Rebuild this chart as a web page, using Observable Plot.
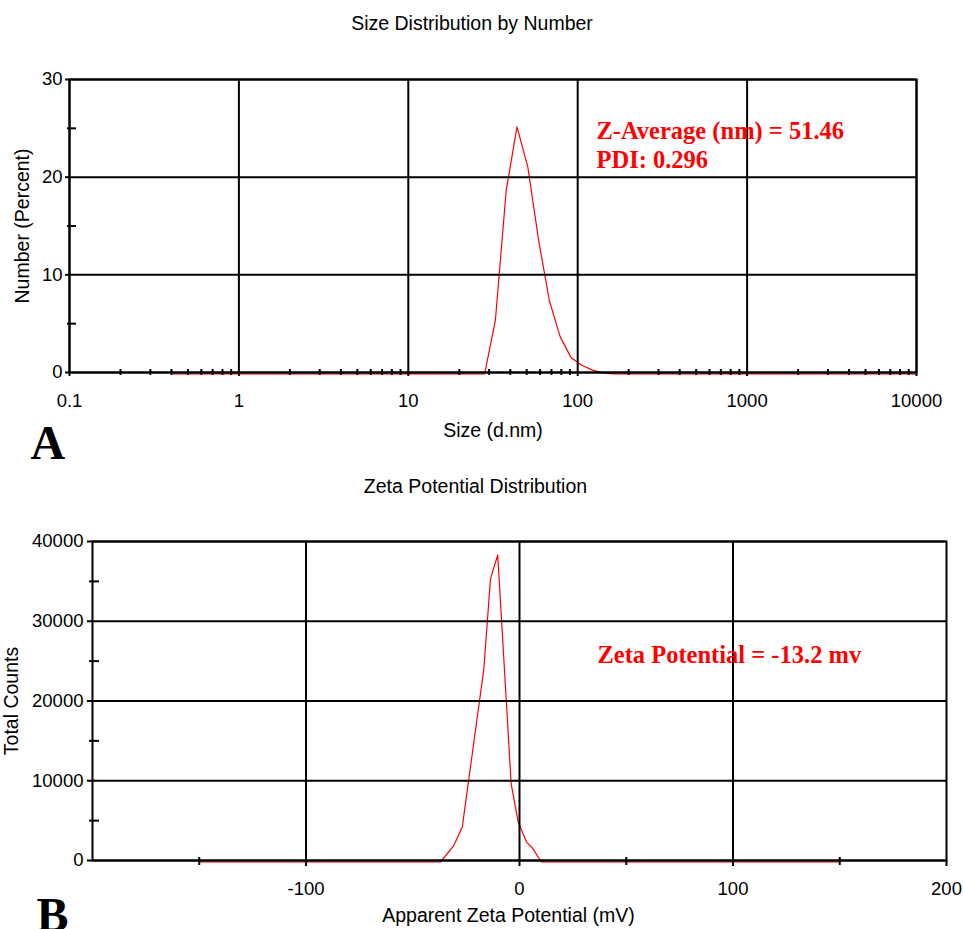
<!DOCTYPE html>
<html>
<head>
<meta charset="utf-8">
<script src="https://cdn.jsdelivr.net/npm/d3@7"></script>
<script src="https://cdn.jsdelivr.net/npm/@observablehq/plot@0.6"></script>
<style>
  html, body { margin: 0; padding: 0; background: #fff; overflow: hidden; }
  #root { position: relative; width: 963px; height: 929px; overflow: hidden; background: #fff; }
  #root svg { position: absolute; left: 0; }
</style>
</head>
<body>
<div id="root"></div>
<script>
// ---------- Panel A: Size Distribution by Number ----------
const titleA = "Size Distribution by Number";
const xLabelA = "Size (d.nm)";
const yLabelA = "Number (Percent)";
const annotA = "Z-Average (nm) = 51.46\nPDI: 0.296";
const sizeNm    = [0.4, 28.21, 32.67, 37.84, 43.82, 50.75, 58.77, 68.06, 78.82, 91.28, 105.7, 122.4, 141.8, 164.2, 10000];
const numberPct = [0,   0,     5.5,   18.8,  25.3,  21.2,  13.7,  7.5,   3.8,   1.7,   0.9,   0.4,   0.1,   0,     0];
const sizeTicks = [0.1, 1, 10, 100, 1000, 10000];
const sizeTickLabels = ["0.1", "1", "10", "100", "1000", "10000"];
const sizeMinorTicks = [0.2, 0.3, 0.4, 0.5, 0.6, 0.7, 0.8, 0.9,
                        2, 3, 4, 5, 6, 7, 8, 9,
                        20, 30, 40, 50, 60, 70, 80, 90,
                        200, 300, 400, 500, 600, 700, 800, 900,
                        2000, 3000, 4000, 5000, 6000, 7000, 8000, 9000];
const pctTicks = [0, 10, 20, 30];
const pctTickLabels = ["0", "10", "20", "30"];
const pctMinorTicks = [5, 15, 25];

// ---------- Panel B: Zeta Potential Distribution ----------
const titleB = "Zeta Potential Distribution";
const xLabelB = "Apparent Zeta Potential (mV)";
const yLabelB = "Total Counts";
const annotB = "Zeta Potential = -13.2 mv";
const zetaMv     = [-150, -37, -30.7, -26.8, -16.7, -13.6, -10.2, -3.9, -0.6, 3.3,  6.2,  10.2, 150];
const zetaCounts = [0,    0,   2100,  4400,  24200, 35500, 38500, 9800, 5000, 2500, 1700, 0,    0];
const zetaTicks = [-100, 0, 100, 200];
const zetaTickLabels = ["-100", "0", "100", "200"];
const zetaGrid = [-100, 0, 100];
const zetaMinorTicks = [-150, 50, 150];
const countTicks = [0, 10000, 20000, 30000, 40000];
const countTickLabels = ["0", "10000", "20000", "30000", "40000"];
const countMinorTicks = [5000, 15000, 25000, 35000];

const SANS = "'Liberation Sans', Arial, Helvetica, sans-serif";
const SERIF = "'Liberation Serif', 'Times New Roman', Times, serif";
const INK = "#000";
const RED = "#ff0000";

const dataA = sizeNm.map((s, i) => ({size: s, pct: numberPct[i]}));
const dataB = zetaMv.map((z, i) => ({mv: z, count: zetaCounts[i]}));

const plotA = Plot.plot({
  width: 963, height: 470,
  marginLeft: 69, marginRight: 47, marginTop: 79, marginBottom: 98,
  style: {fontFamily: SANS, fontSize: "18.5px", color: INK, background: "transparent", overflow: "visible"},
  x: {type: "log", domain: [0.1, 10000], label: null},
  y: {domain: [0, 30], label: null},
  marks: [
    Plot.line(dataA, {x: "size", y: "pct", stroke: RED, strokeWidth: 1.2, dy: 1.5}),
    Plot.ruleX(sizeTicks, {stroke: INK, strokeWidth: 2}),
    Plot.ruleY(pctTicks, {stroke: INK, strokeWidth: 2}),
    Plot.frame({stroke: INK, strokeWidth: 2}),
    Plot.axisX(sizeTicks, {tickSize: 4, tickPadding: 17, strokeWidth: 2, label: null,
      tickFormat: d => sizeTickLabels[sizeTicks.indexOf(d)]}),
    Plot.axisX(sizeMinorTicks, {tickSize: 6, dy: -3, strokeWidth: 2, label: null, tickFormat: () => ""}),
    Plot.axisY(pctTicks, {tickSize: 4, tickPadding: 3, strokeWidth: 2, label: null,
      tickFormat: d => pctTickLabels[pctTicks.indexOf(d)]}),
    Plot.axisY(pctMinorTicks, {tickSize: 9, dx: 7, strokeWidth: 2, label: null, tickFormat: () => ""}),
    Plot.text([titleA], {text: d => d, frameAnchor: "top", dx: -21, dy: -50, lineAnchor: "bottom",
      fontFamily: SANS, fontSize: 19.5, fill: INK}),
    Plot.text([xLabelA], {text: d => d, frameAnchor: "bottom", dx: 0, dy: 64, lineAnchor: "bottom",
      fontFamily: SANS, fontSize: 19.5, fill: INK}),
    Plot.text([yLabelA], {text: d => d, frameAnchor: "left", dx: -41, rotate: -90, lineAnchor: "bottom",
      textAnchor: "middle", fontFamily: SANS, fontSize: 19.5, fill: INK}),
    Plot.text([annotA], {text: d => d, frameAnchor: "top-left", dx: 527, dy: 88, lineAnchor: "bottom",
      lineHeight: 1.18, textAnchor: "start", fontFamily: SERIF, fontWeight: "bold", fontSize: 24.5, fill: RED}),
    Plot.text(["A"], {text: d => d, frameAnchor: "bottom-left", dx: -39, dy: 86, lineAnchor: "bottom",
      textAnchor: "start", fontFamily: SERIF, fontWeight: "bold", fontSize: 48, fill: INK})
  ]
});
plotA.style.top = "0px";

const plotB = Plot.plot({
  width: 963, height: 459,
  marginLeft: 92, marginRight: 17, marginTop: 71, marginBottom: 69,
  style: {fontFamily: SANS, fontSize: "18.5px", color: INK, background: "transparent", overflow: "visible"},
  x: {domain: [-200, 200], label: null},
  y: {domain: [0, 40000], label: null},
  marks: [
    Plot.line(dataB, {x: "mv", y: "count", stroke: RED, strokeWidth: 1.2, dy: 1.5}),
    Plot.ruleX(zetaGrid, {stroke: INK, strokeWidth: 2}),
    Plot.ruleY(countTicks, {stroke: INK, strokeWidth: 2}),
    Plot.frame({stroke: INK, strokeWidth: 2}),
    Plot.axisX(zetaTicks, {tickSize: 6, tickPadding: 15, strokeWidth: 2, label: null,
      tickFormat: d => zetaTickLabels[zetaTicks.indexOf(d)]}),
    Plot.axisX(zetaMinorTicks, {tickSize: 8, dy: -3, strokeWidth: 2, label: null, tickFormat: () => ""}),
    Plot.axisY(countTicks, {tickSize: 5, tickPadding: 4, strokeWidth: 2, label: null,
      tickFormat: d => countTickLabels[countTicks.indexOf(d)]}),
    Plot.axisY(countMinorTicks, {tickSize: 10, dx: 7, strokeWidth: 2, label: null, tickFormat: () => ""}),
    Plot.text([titleB], {text: d => d, frameAnchor: "top", dx: -44, dy: -49, lineAnchor: "bottom",
      fontFamily: SANS, fontSize: 19.5, fill: INK}),
    Plot.text([xLabelB], {text: d => d, frameAnchor: "bottom", dx: -11, dy: 61, lineAnchor: "bottom",
      fontFamily: SANS, fontSize: 19.5, fill: INK}),
    Plot.text([yLabelB], {text: d => d, frameAnchor: "left", dx: -75, rotate: -90, lineAnchor: "bottom",
      textAnchor: "middle", fontFamily: SANS, fontSize: 19.5, fill: INK}),
    Plot.text([annotB], {text: d => d, frameAnchor: "top-left", dx: 505, dy: 121, lineAnchor: "bottom",
      textAnchor: "start", fontFamily: SERIF, fontWeight: "bold", fontSize: 24.5, fill: RED}),
    Plot.text(["B"], {text: d => d, frameAnchor: "bottom-left", dx: -56, dy: 70, lineAnchor: "bottom",
      textAnchor: "start", fontFamily: SERIF, fontWeight: "bold", fontSize: 48, fill: INK})
  ]
});
plotB.style.top = "470px";

const root = document.getElementById("root");
root.appendChild(plotA);
root.appendChild(plotB);
</script>
</body>
</html>
